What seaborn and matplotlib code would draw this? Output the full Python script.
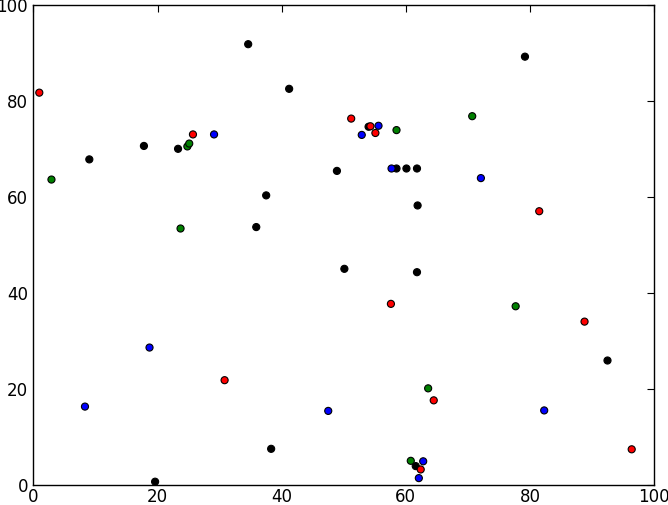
import matplotlib
matplotlib.use("Agg")
import matplotlib.pyplot as plt
import seaborn as sns
import pandas as pd

# values
black_x = [9.0, 17.8, 23.3, 34.6, 41.2, 48.9, 37.5, 35.9, 79.2, 54.0,
           58.5, 60.1, 61.8, 61.9, 38.3, 19.6, 50.1, 61.8, 92.5, 61.6]
black_y = [67.9, 70.7, 70.1, 91.9, 82.6, 65.5, 60.4, 53.8, 89.3, 74.7,
           66.0, 66.0, 66.0, 58.3, 7.6, 0.75, 45.1, 44.4, 26.0, 4.0]

green_x = [2.9, 24.8, 25.1, 23.7, 58.5, 70.7, 77.7, 63.6, 60.8]
green_y = [63.7, 70.6, 71.2, 53.5, 74.0, 76.9, 37.3, 20.2, 5.1]

blue_x = [29.1, 55.6, 52.9, 57.7, 72.1, 8.3, 18.7, 47.5, 82.3, 62.8, 62.1]
blue_y = [73.1, 74.9, 73.0, 66.0, 64.0, 16.4, 28.7, 15.5, 15.6, 5.0, 1.5]

red_x = [0.94, 25.7, 51.2, 54.3, 55.1, 81.5, 30.8, 57.6, 88.8, 64.5, 96.4, 62.4]
red_y = [81.8, 73.1, 76.4, 74.8, 73.4, 57.1, 21.9, 37.8, 34.1, 17.7, 7.5, 3.3]

ticks = [0, 20, 40, 60, 80, 100]

df = pd.concat([
    pd.DataFrame({"x": black_x, "y": black_y, "group": "k"}),
    pd.DataFrame({"x": green_x, "y": green_y, "group": "g"}),
    pd.DataFrame({"x": blue_x, "y": blue_y, "group": "b"}),
    pd.DataFrame({"x": red_x, "y": red_y, "group": "r"}),
], ignore_index=True)

palette = {"k": "black", "g": "#008000", "b": "#0000ff", "r": "#ff0000"}

sns.set_style("white")
fig = plt.figure(figsize=(6.68, 5.05), dpi=100)
ax = fig.add_axes([0.0501, 0.039, 0.929, 0.9505])

sns.scatterplot(data=df, x="x", y="y", hue="group", palette=palette,
                s=26, edgecolor="black", linewidth=0.8, legend=False, ax=ax)

ax.set_xlim(0, 100)
ax.set_ylim(0, 100)
ax.set_xticks(ticks)
ax.set_yticks(ticks)
ax.set_xlabel("")
ax.set_ylabel("")
ax.tick_params(direction="in", length=5, width=0.8, top=True, right=True,
               labelsize=12, colors="black", pad=4)
ax.tick_params(axis="x", pad=2)
for s in ax.spines.values():
    s.set_color("black")
    s.set_linewidth(1.0)

fig.savefig("out.png", dpi=100)
